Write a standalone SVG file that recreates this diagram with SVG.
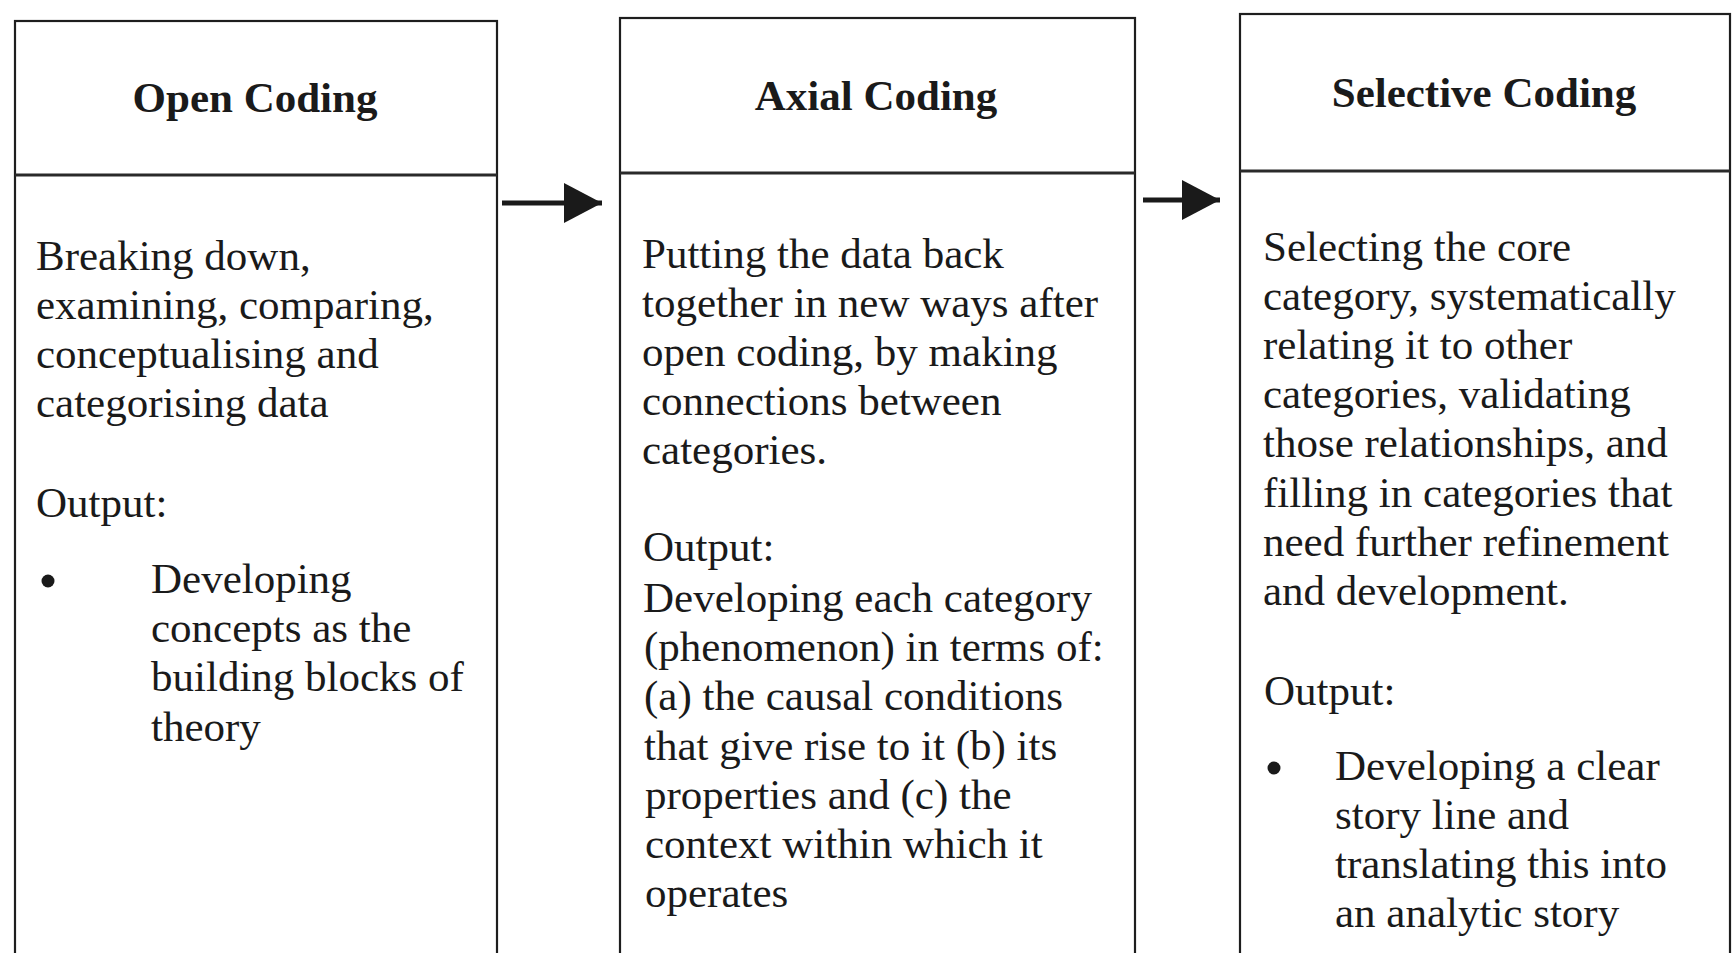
<svg xmlns="http://www.w3.org/2000/svg" width="1734" height="953" viewBox="0 0 1734 953">
  <defs>
    <style>
      .box { fill: #ffffff; stroke: #1e1e1e; stroke-width: 2.2; }
      .div { stroke: #2a2a2a; stroke-width: 3; }
      .title { font-family: "Liberation Serif", "Times New Roman", serif; font-size: 43px; font-weight: bold; fill: #1a1a1a; text-anchor: middle; }
      .body { font-family: "Liberation Serif", "Times New Roman", serif; font-size: 43px; fill: #1a1a1a; }
      .conn { stroke: #1a1a1a; stroke-width: 5; fill: none; }
      .bullet { fill: #1a1a1a; }
    </style>
    <marker id="arrow" markerUnits="userSpaceOnUse" markerWidth="40" markerHeight="42" refX="38" refY="20" orient="auto">
      <path d="M0,0 L38,20 L0,40 Z" fill="#1a1a1a"/>
    </marker>
  </defs>
  <rect x="0" y="0" width="1734" height="953" fill="#ffffff"/>

  <g id="open-coding">
    <rect class="box" x="15" y="21" width="482" height="945"/>
    <line class="div" x1="15" y1="175" x2="497" y2="175"/>
    <text class="title" x="255" y="112">Open Coding</text>
    <text class="body" x="36" y="270">Breaking down,</text>
    <text class="body" x="36" y="319">examining, comparing,</text>
    <text class="body" x="36" y="368">conceptualising and</text>
    <text class="body" x="36" y="417">categorising data</text>
    <text class="body" x="36" y="517">Output:</text>
    <circle class="bullet" cx="48" cy="581" r="6.5"/>
    <text class="body" x="151" y="593">Developing</text>
    <text class="body" x="151" y="642">concepts as the</text>
    <text class="body" x="151" y="691">building blocks of</text>
    <text class="body" x="151" y="741">theory</text>
  </g>

  <g id="axial-coding">
    <rect class="box" x="620" y="18" width="515" height="950"/>
    <line class="div" x1="620" y1="173" x2="1135" y2="173"/>
    <text class="title" x="876" y="110">Axial Coding</text>
    <text class="body" x="642" y="267.5">Putting the data back</text>
    <text class="body" x="642" y="316.6">together in new ways after</text>
    <text class="body" x="642" y="365.7">open coding, by making</text>
    <text class="body" x="642" y="414.8">connections between</text>
    <text class="body" x="642" y="463.9">categories.</text>
    <text class="body" x="643" y="561">Output:</text>
    <text class="body" x="643" y="612">Developing each category</text>
    <text class="body" x="644" y="661">(phenomenon) in terms of:</text>
    <text class="body" x="644" y="710">(a) the causal conditions</text>
    <text class="body" x="644" y="759.5">that give rise to it (b) its</text>
    <text class="body" x="645" y="808.5">properties and (c) the</text>
    <text class="body" x="645" y="857.5">context within which it</text>
    <text class="body" x="645" y="906.5">operates</text>
  </g>

  <g id="selective-coding">
    <rect class="box" x="1240" y="14" width="490" height="955"/>
    <line class="div" x1="1240" y1="171" x2="1730" y2="171"/>
    <text class="title" x="1484" y="107">Selective Coding</text>
    <text class="body" x="1263" y="261">Selecting the core</text>
    <text class="body" x="1263" y="310">category, systematically</text>
    <text class="body" x="1263" y="359">relating it to other</text>
    <text class="body" x="1263" y="408">categories, validating</text>
    <text class="body" x="1263" y="457">those relationships, and</text>
    <text class="body" x="1263" y="506.5">filling in categories that</text>
    <text class="body" x="1263" y="555.5">need further refinement</text>
    <text class="body" x="1263" y="605">and development.</text>
    <text class="body" x="1264" y="705">Output:</text>
    <circle class="bullet" cx="1274" cy="768" r="6.5"/>
    <text class="body" x="1335" y="780">Developing a clear</text>
    <text class="body" x="1335" y="829">story line and</text>
    <text class="body" x="1335" y="878">translating this into</text>
    <text class="body" x="1335" y="927">an analytic story</text>
  </g>

  <g id="connectors">
    <line class="conn" x1="502" y1="203" x2="602" y2="203" marker-end="url(#arrow)"/>
    <line class="conn" x1="1143" y1="200" x2="1220" y2="200" marker-end="url(#arrow)"/>
  </g>
</svg>
